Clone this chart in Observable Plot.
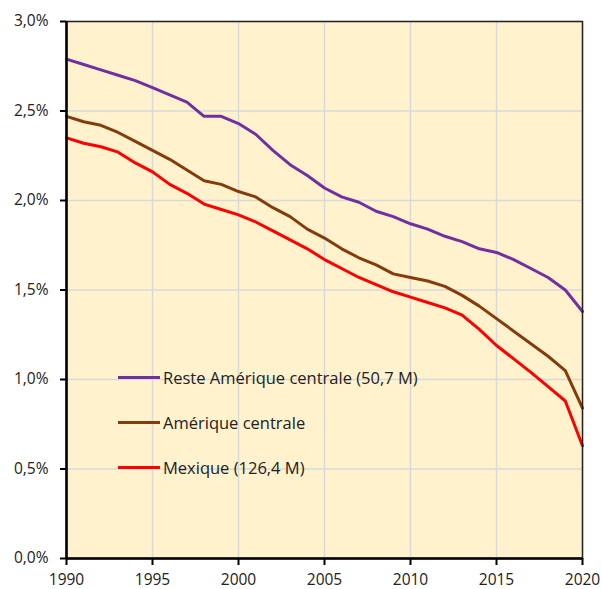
<!DOCTYPE html>
<html><head><meta charset="utf-8">
<script src="https://cdn.jsdelivr.net/npm/d3@7"></script>
<script src="https://cdn.jsdelivr.net/npm/@observablehq/plot@0.6"></script>
<style>
body{margin:0;background:#fff;font-family:"Open Sans",sans-serif;}
#wrap{position:relative;width:602px;height:589px;}
#legend{position:absolute;left:118px;top:355px;}
.row{display:flex;align-items:center;height:45px;font-size:16.5px;color:#222;}
.sw{width:42px;height:3px;margin-right:3px;}
</style></head><body><div id="wrap"><div id="legend"></div></div>
<script>
const years = [1990,1991,1992,1993,1994,1995,1996,1997,1998,1999,2000,2001,2002,2003,2004,2005,2006,2007,2008,2009,2010,2011,2012,2013,2014,2015,2016,2017,2018,2019,2020];
const reste = [2.79,2.76,2.73,2.70,2.67,2.63,2.59,2.55,2.47,2.47,2.43,2.37,2.28,2.20,2.14,2.07,2.02,1.99,1.94,1.91,1.87,1.84,1.80,1.77,1.73,1.71,1.67,1.62,1.57,1.50,1.38];
const centrale = [2.47,2.44,2.42,2.38,2.33,2.28,2.23,2.17,2.11,2.09,2.05,2.02,1.96,1.91,1.84,1.79,1.73,1.68,1.64,1.59,1.57,1.55,1.52,1.47,1.41,1.34,1.27,1.20,1.13,1.05,0.84];
const mexique = [2.35,2.32,2.30,2.27,2.21,2.16,2.09,2.04,1.98,1.95,1.92,1.88,1.83,1.78,1.73,1.67,1.62,1.57,1.53,1.49,1.46,1.43,1.40,1.36,1.28,1.19,1.115,1.04,0.96,0.88,0.63];
const seriesNames = ["Reste Amérique centrale (50,7 M)","Amérique centrale","Mexique (126,4 M)"];
const seriesColors = ["#7030A0","#843C0C","#FF0000"];
const yTicks = [0,0.5,1,1.5,2,2.5,3];
const xTicks = [1990,1995,2000,2005,2010,2015,2020];

const allSeries = [reste, centrale, mexique];
const data = [];
allSeries.forEach((vals, si) => vals.forEach((v, i) => data.push({year: years[i], value: v, series: seriesNames[si]})));

const fmt = d => d.toFixed(1).replace(".", ",") + "%";

const chart = Plot.plot({
  width: 602, height: 589,
  marginLeft: 66, marginRight: 20, marginTop: 21, marginBottom: 31,
  style: {fontFamily: "'Open Sans', sans-serif", fontSize: "15.5px", color: "#222", background: "white", overflow: "visible"},
  x: {domain: [1990, 2020], label: null},
  y: {domain: [0, 3], label: null},
  color: {domain: seriesNames, range: seriesColors},
  marks: [
    Plot.frame({fill: "#FFF2CC", stroke: null}),
    Plot.gridX(xTicks, {stroke: "#d9d9d9", strokeOpacity: 1, strokeWidth: 1.5}),
    Plot.gridY(yTicks, {stroke: "#d9d9d9", strokeOpacity: 1, strokeWidth: 1.5}),
    Plot.line(data, {x: "year", y: "value", z: "series", stroke: "series", strokeWidth: 3, strokeLinejoin: "round"}),
    Plot.frame({stroke: "#222", strokeWidth: 1.5}),
    Plot.axisX({ticks: xTicks, tickFormat: d => String(d), tickSize: 7, tickPadding: 8, stroke: "#000", strokeWidth: 2, fontSize: 15.5}),
    Plot.axisY({ticks: yTicks, tickFormat: fmt, tickSize: 6, tickPadding: 12, stroke: "#000", strokeWidth: 2, fontSize: 15.5}),
    Plot.ruleX([1990], {stroke: "#000", strokeWidth: 2.5}),
    Plot.ruleY([0], {stroke: "#000", strokeWidth: 2.5})
  ]
});
document.getElementById("wrap").prepend(chart);

const legend = document.getElementById("legend");
seriesNames.forEach((name, i) => {
  const row = document.createElement("div");
  row.className = "row";
  const sw = document.createElement("div");
  sw.className = "sw";
  sw.style.background = seriesColors[i];
  const t = document.createElement("span");
  t.textContent = name;
  row.append(sw, t);
  legend.append(row);
});
</script></body></html>
